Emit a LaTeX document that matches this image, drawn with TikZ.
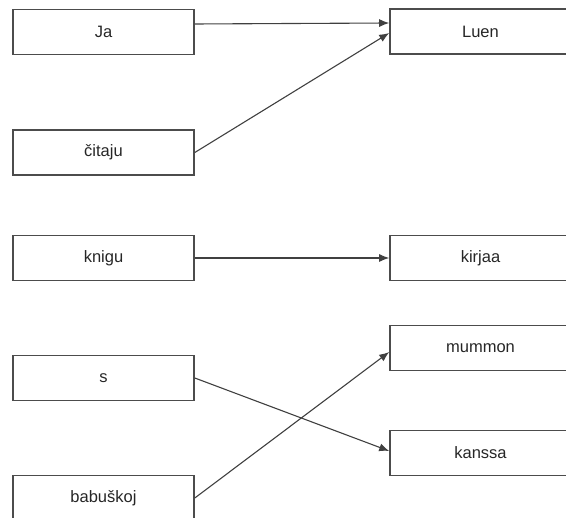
\documentclass[tikz,border=0pt]{standalone}
\usepackage{fontspec}
\setmainfont{Liberation Sans}
\usetikzlibrary{arrows.meta}

\tikzset{
  word/.style={draw=black!70, line width=1.6pt, minimum width=181pt, minimum height=45pt,
    inner sep=0pt, text=black!85, font=\fontsize{16.5}{19}\selectfont},
  link/.style={draw=black!75, line width=1.1pt, -{Latex[length=10pt,width=8pt]}}
}

\begin{document}
\begin{tikzpicture}[x=1pt,y=-1pt]
	\useasboundingbox (0,0) rectangle (566,518);
	% Russian words
	\node[word] (ja) at (103.5,32) {Ja};
	\node[word] (citaju) at (103.5,152.5) {čitaju};
	\node[word] (knigu) at (103.5,258) {knigu};
	\node[word] (s) at (103.5,378) {s};
	\node[word] (babuskoj) at (103.5,498) {babuškoj};
	% Finnish words
	\node[word] (luen) at (480.5,31.5) {Luen};
	\node[word] (kirjaa) at (480.5,258) {kirjaa};
	\node[word] (mummon) at (480.5,348) {mummon};
	\node[word] (kanssa) at (480.5,453) {kanssa};
	
	\draw[link] ([yshift=8]ja.east) -- ([yshift=8.5]luen.west);
	\draw[link] (citaju.east) -- ([yshift=-1.5]luen.west);
	\draw[link] (knigu.east) -- (kirjaa.west);
	\draw[link] (s.east) -- ([yshift=2]kanssa.west);
	\draw[link] (babuskoj.east) -- ([yshift=-4]mummon.west);
\end{tikzpicture}
\end{document}
